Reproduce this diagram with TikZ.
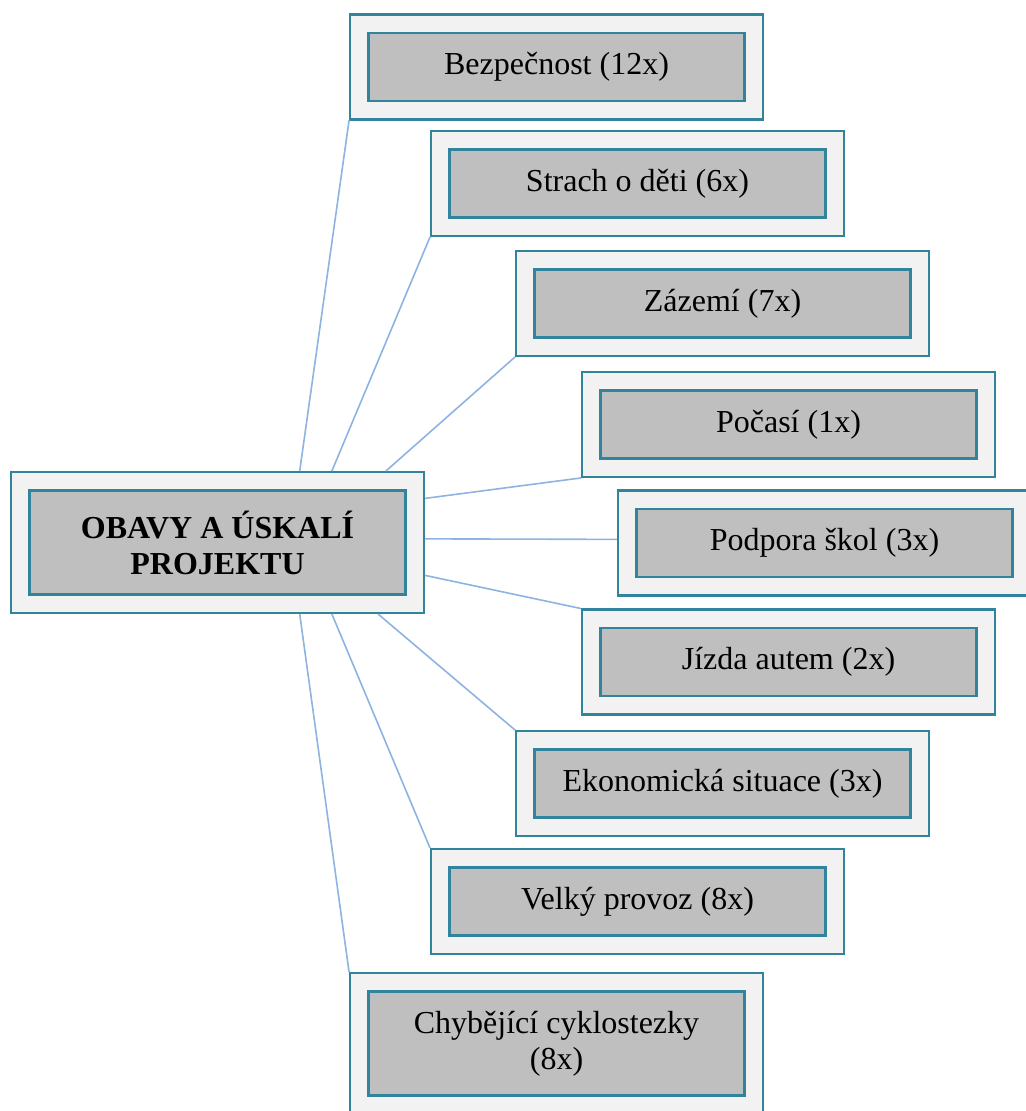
\documentclass[tikz,border=0pt]{standalone}
\usepackage{fontspec}
\setmainfont{Liberation Serif}
\usepackage{xcolor}
\usepackage{tikz}
\definecolor{tealline}{RGB}{49, 132, 155}
\definecolor{lgray}{RGB}{242, 242, 242}
\definecolor{mgray}{RGB}{191, 191, 191}
\definecolor{lblue}{RGB}{141, 179, 226}

\begin{document}
\begin{tikzpicture}[x = 0.5pt, y = -0.5pt,
		item/.style = {rectangle, draw = tealline, line width = 1.1pt, double = lgray, double distance = 8.1pt,
			fill = mgray, minimum width = 197.25pt, minimum height = 43.25pt, outer sep = 5.1pt,
			inner sep = 0pt, align = center, font = \fontsize{16}{18}\selectfont},
		tall/.style = {minimum height = 61.25pt},
		conn/.style = {draw = lblue, line width = 0.8pt}]
			\useasboundingbox (0,0) rectangle (1025,1111);
			\node (o) at (217.5,542.5) [item, tall, font = \fontsize{16}{18}\selectfont\bfseries] {OBAVY A ÚSKALÍ\\PROJEKTU};
			\node (a) at (556.5,67) [item] {Bezpečnost (12x)};
			\node (b) at (637.5,183.5) [item] {Strach o děti (6x)};
			\node (c) at (722.5,303.5) [item] {Zázemí (7x)};
			\node (d) at (788.5,424.5) [item] {Počasí (1x)};
			\node (e) at (824.5,543) [item] {Podpora škol (3x)};
			\node (f) at (788.5,662) [item] {Jízda autem (2x)};
			\node (g) at (722.5,783.5) [item] {Ekonomická situace (3x)};
			\node (h) at (637.5,901.5) [item] {Velký provoz (8x)};
			\node (i) at (556.5,1043.5) [item, tall] {Chybějící cyklostezky\\(8x)};
			\draw[conn] (o.41) edge (a.south west);
			\draw[conn] (o.32) edge (b.south west);
			\draw[conn] (o.23) edge (c.south west);
			\draw[conn] (o.12) edge (d.south west);
			\draw[conn] (o.1) edge (e.179);
			\draw[conn] (o.-9) edge (f.north west);
			\draw[conn] (o.-24) edge (g.north west);
			\draw[conn] (o.-32) edge (h.north west);
			\draw[conn] (o.-41) edge (i.north west);
			\end{tikzpicture}
\end{document}
